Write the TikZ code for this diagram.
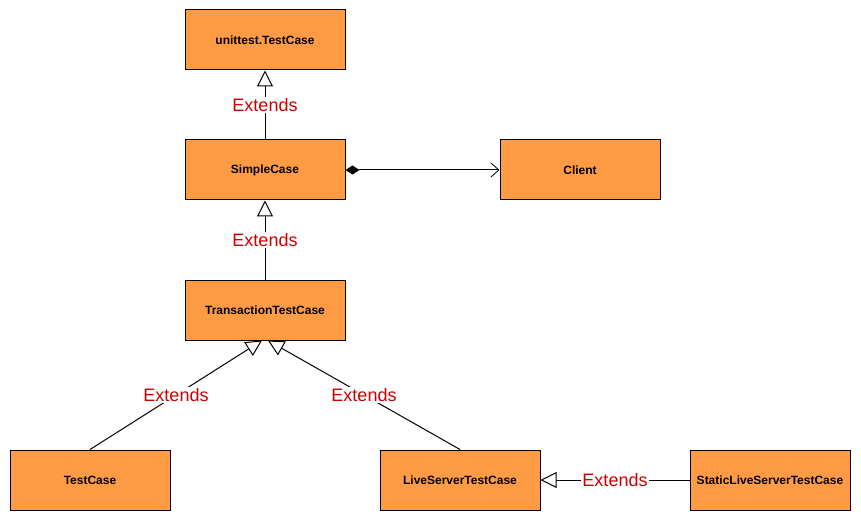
\documentclass[tikz,border=0pt]{standalone}
\usepackage{fontspec}
\setmainfont{Liberation Sans}
\usetikzlibrary{arrows.meta}
\definecolor{boxfill}{HTML}{FF9B45}
\definecolor{lblred}{HTML}{CC0000}
\begin{document}
\begin{tikzpicture}[x=1pt,y=-1pt,
  cls/.style={draw=black,fill=boxfill,line width=1pt,minimum width=160pt,minimum height=60pt,inner sep=0pt,font=\fontsize{12}{14}\selectfont\bfseries},
  ext/.style={draw=black,line width=1pt,-{Triangle[open,length=16pt,width=16pt,fill=white]}},
  lbl/.style={fill=white,text=lblred,font=\fontsize{18}{20}\selectfont,inner sep=1pt}]
\useasboundingbox (0,0) rectangle (861,521);
\node[cls] (ut) at (265,40) {unittest.TestCase};
\node[cls] (sc) at (265,170) {SimpleCase};
\node[cls] (cl) at (580,170) {Client};
\node[cls] (ttc) at (265,310) {TransactionTestCase};
\node[cls] (tc) at (90,480) {TestCase};
\node[cls] (lst) at (460,480) {LiveServerTestCase};
\node[cls] (slst) at (770,480) {StaticLiveServerTestCase};
\draw[ext] (sc.north) -- node[lbl]{Extends} (ut.south);
\draw[ext] (ttc.north) -- node[lbl]{Extends} (sc.south);
\draw[ext] (tc.north) -- node[lbl]{Extends} ([xshift=-3pt]ttc.south);
\draw[ext] (lst.north) -- node[lbl]{Extends} ([xshift=3pt]ttc.south);
\draw[ext] (slst.west) -- node[lbl]{Extends} (lst.east);
\draw[line width=1pt,{Diamond[length=14pt,width=9pt]}-{Straight Barb[length=8pt,width=14pt,line width=0.8pt]}] (sc.east) -- (cl.west);
\end{tikzpicture}
\end{document}
